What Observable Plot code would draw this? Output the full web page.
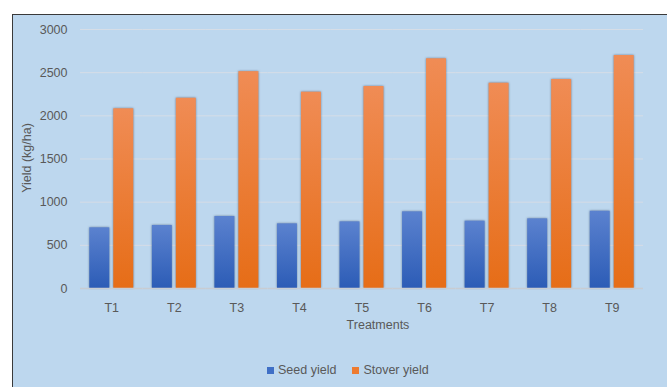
<!DOCTYPE html>
<html><head><meta charset="utf-8">
<script src="https://cdn.jsdelivr.net/npm/d3@7"></script>
<script src="https://cdn.jsdelivr.net/npm/@observablehq/plot@0.6"></script>
<style>
html,body{margin:0;padding:0;background:#fff;width:667px;height:387px;overflow:hidden;font-family:"Liberation Sans",Arial,sans-serif;}
#frame{position:absolute;left:12px;top:14px;width:700px;height:400px;background:#BDD7EE;border-left:1.5px solid #3a3a3a;border-top:1.5px solid #3a3a3a;}
#chart{position:absolute;left:0;top:0;}
.txt{position:absolute;color:#595959;font-size:12.5px;white-space:nowrap;}
#ylab{left:27px;top:158px;transform:translate(-50%,-50%) rotate(-90deg);}
#xlab{left:378px;top:325px;transform:translate(-50%,-50%);}
#legend{position:absolute;left:267px;top:363px;display:flex;align-items:center;color:#595959;font-size:12.5px;}
.item{display:flex;align-items:center;margin-right:16px;}
.sw{width:7px;height:7px;margin-right:4px;}
</style></head>
<body>
<div id="frame"></div>
<div id="chart"></div>
<div id="ylab" class="txt">Yield (kg/ha)</div>
<div id="xlab" class="txt">Treatments</div>
<div id="legend"></div>
<script>
const treatments = ["T1","T2","T3","T4","T5","T6","T7","T8","T9"];
const seedYield = [703, 730, 834, 749, 772, 888, 780, 807, 895];
const stoverYield = [2082, 2204, 2512, 2274, 2340, 2661, 2378, 2421, 2699];
const seriesNames = ["Seed yield", "Stover yield"];
const yTicks = [0, 500, 1000, 1500, 2000, 2500, 3000];

const seedData = treatments.map((t, i) => ({treatment: t, series: seriesNames[0], value: seedYield[i]}));
const stoverData = treatments.map((t, i) => ({treatment: t, series: seriesNames[1], value: stoverYield[i]}));

const svg = Plot.plot({
  width: 667, height: 340,
  marginLeft: 80, marginRight: 24, marginTop: 29, marginBottom: 52,
  style: {background: "transparent", color: "#595959", fontFamily: "'Liberation Sans', Arial, sans-serif", fontSize: "12.5px"},
  fx: {domain: treatments, padding: 0, round: false, label: null, axis: "bottom", tickSize: 0, tickPadding: 15},
  x: {domain: seriesNames, axis: null, round: false, paddingInner: 1/6, paddingOuter: 0.3875},
  y: {domain: [0, 3000], ticks: yTicks, tickFormat: d3.format("d"), tickSize: 0, tickPadding: 13, label: null},
  marks: [
    Plot.gridY(yTicks, {stroke: "#d6dde6", strokeOpacity: 1}),
    Plot.barY(seedData, {fx: "treatment", x: "series", y: "value", fill: "url(#gBlue)"}),
    Plot.barY(stoverData, {fx: "treatment", x: "series", y: "value", fill: "url(#gOrange)"}),
    Plot.ruleY([0], {stroke: "#c8ccd2", strokeWidth: 1.5})
  ]
});

const ns = "http://www.w3.org/2000/svg";
const defs = document.createElementNS(ns, "defs");
function grad(id, top, bottom) {
  const g = document.createElementNS(ns, "linearGradient");
  g.setAttribute("id", id); g.setAttribute("x1", 0); g.setAttribute("y1", 0); g.setAttribute("x2", 0); g.setAttribute("y2", 1);
  [[0, top], [1, bottom]].forEach(([o, c]) => {
    const s = document.createElementNS(ns, "stop");
    s.setAttribute("offset", o); s.setAttribute("stop-color", c); g.appendChild(s);
  });
  defs.appendChild(g);
}
grad("gBlue", "#5B82CF", "#2C5CB6");
grad("gOrange", "#F08C55", "#E66D17");
svg.insertBefore(defs, svg.firstChild);
svg.querySelectorAll("g[aria-label='bar']").forEach(g => g.style.filter = "drop-shadow(0 0 1.2px rgba(40,60,90,0.55))");
document.getElementById("chart").appendChild(svg);

const legend = document.getElementById("legend");
[["#3F6FC6", seriesNames[0]], ["#EE7B30", seriesNames[1]]].forEach(([c, n]) => {
  const it = document.createElement("div"); it.className = "item";
  const sw = document.createElement("div"); sw.className = "sw"; sw.style.background = c;
  const tx = document.createElement("span"); tx.textContent = n;
  it.appendChild(sw); it.appendChild(tx); legend.appendChild(it);
});
</script>
</body></html>
